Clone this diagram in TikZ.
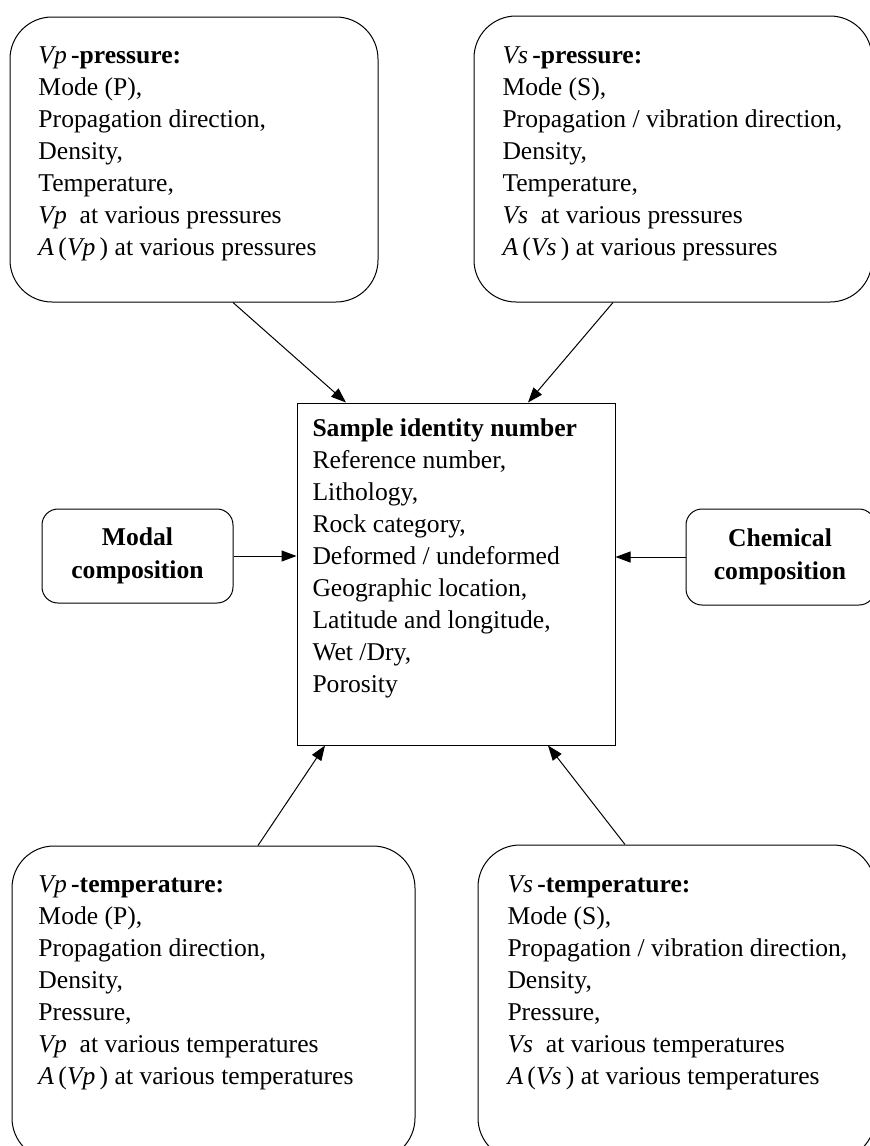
\documentclass[tikz,border=0pt]{standalone}
\usepackage{fontspec}
\setmainfont{Liberation Serif}
\usetikzlibrary{arrows.meta,calc}
\begin{document}
\begin{tikzpicture}[x=0.5pt,y=-0.5pt,line width=0.5pt]
\tikzstyle{every node}+=[inner sep=0pt]
\tikzstyle{bigbox}=[draw,rounded corners=21pt]
\tikzstyle{smallbox}=[draw,rounded corners=8pt]
\tikzstyle{txt}=[anchor=north west,align=left,font=\fontsize{12.8}{16}\selectfont]
\tikzstyle{bold}=[align=center,font=\fontsize{12.8}{16.5}\selectfont\bfseries]
\tikzstyle{link}=[-{Triangle[length=7.5pt,width=5.5pt]}]
\useasboundingbox (0,0) rectangle (870,1146);
\clip (0,0) rectangle (870,1146);
% boxes
\node [bigbox,minimum width=184pt,minimum height=142.5pt] (vpp) at (194,159.5) {};
\node [bigbox,minimum width=199pt,minimum height=143pt] (vsp) at (673,159) {};
\node [smallbox,minimum width=95.5pt,minimum height=47pt] (modal) at (137.5,556) {};
\node [smallbox,minimum width=94.5pt,minimum height=48pt] (chem) at (780.5,557) {};
\node [draw,minimum width=159pt,minimum height=171pt] (sample) at (456,574) {};
\node [bigbox,minimum width=201.5pt,minimum height=157pt] (vpt) at (213.5,1003) {};
\node [bigbox,minimum width=198.5pt,minimum height=157.5pt] (vst) at (676.5,1002.5) {};
% texts
\node [txt] (vpptxt) at (38,46) {\textit{Vp}\,\textbf{-pressure:}\\Mode (P),\\Propagation direction,\\Density,\\Temperature,\\\textit{Vp}\ \ at various pressures\\\textit{A}\,(\textit{Vp}\,) at various pressures};
\node [txt] (vsptxt) at (502,46) {\textit{Vs}\,\textbf{-pressure:}\\Mode (S),\\Propagation / vibration direction,\\Density,\\Temperature,\\\textit{Vs}\ \ at various pressures\\\textit{A}\,(\textit{Vs}\,) at various pressures};
\node [bold] (modaltxt) at (modal) {Modal\\composition};
\node [bold] (chemtxt) at (780,557) {Chemical\\composition};
\node [txt] (sampletxt) at (312,418) {\textbf{Sample identity number}\\Reference number,\\Lithology,\\Rock category,\\Deformed / undeformed\\Geographic location,\\Latitude and longitude,\\Wet /Dry,\\Porosity};
\node [txt] (vpttxt) at (38,875) {\textit{Vp}\,\textbf{-temperature:}\\Mode (P),\\Propagation direction,\\Density,\\Pressure,\\\textit{Vp}\ \ at various temperatures\\\textit{A}\,(\textit{Vp}\,) at various temperatures};
\node [txt] (vsttxt) at (507,875) {\textit{Vs}\,\textbf{-temperature:}\\Mode (S),\\Propagation / vibration direction,\\Density,\\Pressure,\\\textit{Vs}\ \ at various temperatures\\\textit{A}\,(\textit{Vs}\,) at various temperatures};
% arrows
\draw [link] ($(vpp.south)+(39,0)$) -- ($(sample.north)+(-110,0)$);
\draw [link] ($(vsp.south)+(-60,0)$) -- ($(sample.north)+(72,0)$);
\draw [link] (modal.east) -- (modal.east -| sample.west);
\draw [link] (chem.west) -- (chem.west -| sample.east);
\draw [link] ($(vpt.north)+(44.5,0)$) -- ($(sample.south)+(-131,0)$);
\draw [link] ($(vst.north)+(-51.5,0)$) -- ($(sample.south)+(92,0)$);
\end{tikzpicture}
\end{document}
